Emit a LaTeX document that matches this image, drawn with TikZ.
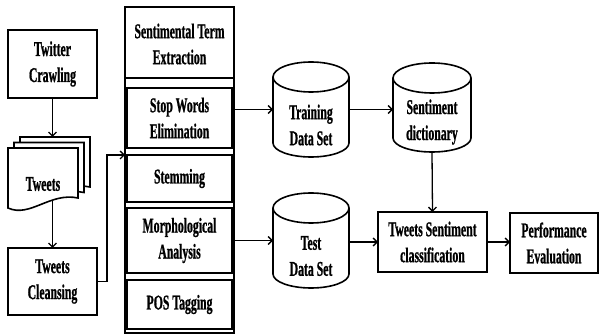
\documentclass[tikz,border=0pt]{standalone}
\usepackage{fontspec}
\setmainfont{Liberation Serif}[FakeStretch=0.56,FakeBold=0.8]
\usetikzlibrary{arrows.meta,calc}
\newcommand\lbltxt{\bfseries\fontsize{21}{26}\selectfont}
\begin{document}
\begin{tikzpicture}[x=1pt,y=-1pt,
  box/.style={draw, line width=1.6pt, fill=white, align=center, font=\lbltxt, inner sep=0pt, outer sep=0pt},
  inbox/.style={box, minimum width=105pt},
  lbl/.style={align=center, font=\lbltxt, inner sep=0pt},
  cylbox/.style={inner sep=0pt, outer sep=0pt},
  shp/.style={draw, line width=1.6pt, fill=white},
  arr/.style={line width=1.3pt, -{Straight Barb[length=4pt,width=8pt,line width=1.3pt]}},
  ln/.style={line width=1.3pt}]
\useasboundingbox (0,0) rectangle (599,336);

% left column
\node[box, minimum width=89pt, minimum height=68pt] (crawl) at (52.5,64) {Twitter\\Crawling};
\node[box, minimum width=89pt, minimum height=67pt] (cleanse) at (52.5,281.5) {Tweets\\Cleansing};

% document stack
\foreach \dx/\dy in {20/137, 14/142.5, 8/148}{
  \begin{scope}[shift={(\dx,\dy)}]
    \draw[shp] (0,0) -- (70,0) -- (70,50) .. controls (42,44) and (22,70) .. (0,60) -- cycle;
  \end{scope}
}
\node[lbl] (tweets) at (43,184) {Tweets};
\coordinate (backtop) at (52.5,137);
\coordinate (docbot) at (52.5,201);

\draw[arr] (crawl.south) -- (backtop);
\draw[arr] (docbot) -- (cleanse.north);

% extraction column
\node[draw, line width=1.2pt, minimum width=109pt, minimum height=326pt, inner sep=0pt, outer sep=0pt] (outer) at (179.5,170) {};
\draw[line width=1.2pt] (outer.west |- 0,78) -- (outer.east |- 0,78);
\node[lbl] (head) at (179.5,44) {Sentimental Term\\Extraction};
\node[inbox, minimum height=60pt] (stop) at (179.5,118) {Stop Words\\Elimination};
\node[inbox, minimum height=47pt] (stem) at (179.5,178.5) {Stemming};
\node[inbox, minimum height=65pt] (morph) at (179.5,240.5) {Morphological\\Analysis};
\node[inbox, minimum height=49pt] (pos) at (179.5,304.5) {POS Tagging};

\draw[arr] (cleanse.east) -- ++(10,0) |- (stem.north -| outer.west);

% cylinders
\node[cylbox, minimum width=76pt, minimum height=95pt] (train) at (311,109.5) {};
\node[cylbox, minimum width=76pt, minimum height=95pt] (test) at (311,240.5) {};
\node[cylbox, minimum width=78pt, minimum height=89pt] (dict) at (432,107.5) {};
\foreach \c/\rx in {train/38, test/38, dict/39}{
  \draw[shp] ([yshift=-15pt]\c.north west) -- ([yshift=14pt]\c.south west)
     arc[start angle=180, end angle=360, x radius=\rx pt, y radius=14pt]
     -- ([yshift=-15pt]\c.north east);
  \draw[shp] ([yshift=-15pt]\c.north) ellipse [x radius=\rx pt, y radius=15pt];
}
\node[lbl] (traintxt) at (311,125) {Training\\Data Set};
\node[lbl] (testtxt) at (311,256) {Test\\Data Set};
\node[lbl] (dicttxt) at (432,122) {Sentiment\\dictionary};

% right boxes
\node[box, minimum width=109pt, minimum height=60pt] (tsc) at (432.5,242) {Tweets Sentiment\\classification};
\node[box, minimum width=88pt, minimum height=60pt] (perf) at (554,243) {Performance\\Evaluation};

% connectors
\draw[arr] (train.west -| outer.east) -- (train.west);
\draw[arr] (test.west -| outer.east) -- (test.west);
\draw[arr] (train.east) -- (train.east -| dict.west);
\draw[arr] (dict.south) -- (tsc.north);
\draw[arr] (test.east |- tsc.west) -- (tsc.west);
\draw[arr] (tsc.east) -- (tsc.east -| perf.west);
\end{tikzpicture}
\end{document}
